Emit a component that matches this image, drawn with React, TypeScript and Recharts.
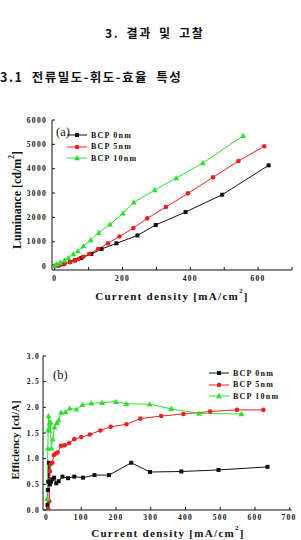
import React from 'react';
import { LineChart, Line, XAxis, YAxis } from 'recharts';

// ---- (a) Luminance vs current density ----
const lumBlackJ = [0, 10, 25, 45, 60, 78, 108, 138, 182, 244, 298, 386, 494, 631];
const lumBlackV = [0, 20, 80, 170, 240, 329, 500, 700, 933, 1260, 1690, 2220, 2930, 4138];
const lumRedJ = [0, 8, 18, 30, 45, 58, 70, 84, 102, 128, 157, 191, 232, 273, 328, 393, 467, 542, 618];
const lumRedV = [0, 20, 60, 110, 160, 230, 290, 384, 500, 700, 935, 1215, 1560, 1960, 2425, 2988, 3645, 4315, 4920];
const lumGreenJ = [0, 6, 16, 29, 40, 55, 68, 85, 106, 130, 163, 201, 233, 295, 358, 437, 556];
const lumGreenV = [20, 82, 144, 226, 330, 493, 616, 822, 1069, 1369, 1714, 2166, 2620, 3124, 3617, 4233, 5355];

// ---- (b) Efficiency vs current density ----
const effBlackJ = [3, 4, 5, 7, 10, 13, 17, 22, 28, 35, 46, 62, 80, 105, 138, 180, 244, 298, 388, 495, 636];
const effBlackV = [0.1, 0.39, 0.55, 0.92, 0.5, 0.55, 0.6, 0.63, 0.52, 0.56, 0.65, 0.62, 0.65, 0.63, 0.68, 0.68, 0.92, 0.74, 0.75, 0.78, 0.84];
const effRedJ = [5, 8, 10, 13, 17, 21, 26, 32, 42, 52, 65, 80, 100, 125, 155, 185, 230, 270, 330, 394, 471, 548, 624];
const effRedV = [0.02, 0.17, 0.75, 0.9, 0.92, 1.07, 1.1, 1.12, 1.25, 1.26, 1.3, 1.38, 1.42, 1.47, 1.55, 1.62, 1.67, 1.78, 1.83, 1.87, 1.92, 1.95, 1.95];
const effGreenJ = [2, 4, 5, 6, 8, 9, 11, 14, 18, 23, 30, 35, 42, 55, 67, 86, 103, 129, 160, 200, 230, 297, 359, 439, 561];
const effGreenV = [0.22, 1.2, 1.57, 1.83, 1.55, 1.69, 1.72, 1.2, 1.38, 1.61, 1.7, 1.75, 1.9, 1.91, 1.98, 1.96, 2.05, 2.08, 2.09, 2.11, 2.07, 2.06, 1.97, 1.88, 1.87];

const seriesNames = ['BCP 0nm', 'BCP 5nm', 'BCP 10nm'];
const lumTicksX = [0, 100, 200, 300, 400, 500, 600, 700];
const lumTicksY = [0, 500, 1000, 1500, 2000, 2500, 3000, 3500, 4000, 4500, 5000, 5500, 6000];
const effTicksX = [0, 50, 100, 150, 200, 250, 300, 350, 400, 450, 500, 550, 600, 650, 700];
const effTicksY = [0, 0.25, 0.5, 0.75, 1, 1.25, 1.5, 1.75, 2, 2.25, 2.5, 2.75, 3];

const BLACK = '#111111';
const RED = '#ee2020';
const GREEN = '#2ee02e';
const SERIF = '"Liberation Serif", "DejaVu Serif", serif';
const KR = '"Noto Sans CJK KR", sans-serif';

const zip = (j: number[], v: number[]) => j.map((x, i) => ({ j: x, v: v[i] }));

const SquareDot = (p: any) =>
  p.cx == null ? <g key={p.index} /> : <rect key={p.index} x={p.cx - 2} y={p.cy - 2} width={4} height={4} fill={BLACK} />;
const CircleDot = (p: any) =>
  p.cx == null ? <g key={p.index} /> : <circle key={p.index} cx={p.cx} cy={p.cy} r={2.3} fill={RED} />;
const TriDot = (p: any) =>
  p.cx == null ? (
    <g key={p.index} />
  ) : (
    <polygon key={p.index} points={`${p.cx},${p.cy - 3} ${p.cx - 3},${p.cy + 2.2} ${p.cx + 3},${p.cy + 2.2}`} fill={GREEN} />
  );

const makeTick = (anchor: 'end' | 'middle', every: number, decimals: number) => (props: any) => {
  const { x, y, payload } = props;
  const val = payload.value as number;
  const show = Math.abs(val / every - Math.round(val / every)) < 1e-6;
  if (!show) return <g />;
  return (
    <text
      x={x}
      y={y}
      dy="0.35em"
      textAnchor={anchor}
      fontFamily={SERIF}
      fontWeight="bold"
      fontSize={7.5}
      letterSpacing={1.3}
      fill="#111"
    >
      {val.toFixed(decimals)}
    </text>
  );
};

const LegendBox = ({ left, top }: { left: number; top: number }) => {
  const rows = [
    { name: seriesNames[0], color: BLACK, kind: 'sq' },
    { name: seriesNames[1], color: RED, kind: 'ci' },
    { name: seriesNames[2], color: GREEN, kind: 'tr' },
  ];
  return (
    <div style={{ position: 'absolute', left, top }}>
      {rows.map((r, i) => (
        <div key={r.name} style={{ position: 'absolute', left: 0, top: i * 11.5, height: 10, width: 110, display: 'flex', alignItems: 'center' }}>
          <svg width={22} height={10} style={{ display: 'block' }}>
            <line x1={1} y1={5} x2={21} y2={5} stroke={r.color} strokeWidth={1} />
            {r.kind === 'sq' && <rect x={9} y={3} width={4} height={4} fill={r.color} />}
            {r.kind === 'ci' && <circle cx={11} cy={5} r={2.3} fill={r.color} />}
            {r.kind === 'tr' && <polygon points="11,2 8,7.2 14,7.2" fill={r.color} />}
          </svg>
          <span style={{ marginLeft: 3, fontFamily: SERIF, fontWeight: 'bold', fontSize: 8, letterSpacing: 1.2, color: '#111', whiteSpace: 'nowrap' }}>
            {r.name}
          </span>
        </div>
      ))}
    </div>
  );
};

const axisStroke = { stroke: '#111', strokeWidth: 1 };

export default function App() {
  return (
    <div style={{ position: 'absolute', left: 0, top: 0, width: 301, height: 540, background: '#fff', overflow: 'hidden' }}>
      <div style={{ position: 'absolute', left: 105, top: 24, fontFamily: KR, fontWeight: 'bold', fontSize: 12, letterSpacing: 1.6, wordSpacing: 3, whiteSpace: 'nowrap', color: '#111' }}>
        3. 결과 및 고찰
      </div>
      <div style={{ position: 'absolute', left: 0, top: 67, fontFamily: KR, fontWeight: 'bold', fontSize: 12.5, letterSpacing: 1.5, wordSpacing: 4, whiteSpace: 'nowrap', color: '#111' }}>
        3.1 전류밀도-휘도-효율 특성
      </div>

      {/* Panel (a) */}
      <div style={{ position: 'absolute', left: 0, top: 0 }}>
        <LineChart width={301} height={300} margin={{ top: 120, right: 9, bottom: 0, left: 0 }}>
          <XAxis
            xAxisId="b"
            type="number"
            dataKey="j"
            domain={[-8, 700]}
            ticks={lumTicksX}
            allowDataOverflow
            height={30}
            tickSize={-3}
            tickMargin={11.5}
            axisLine={axisStroke}
            tickLine={axisStroke}
            tick={makeTick('middle', 200, 0)}
          />
          <XAxis xAxisId="t" orientation="top" type="number" dataKey="j" domain={[-8, 700]} ticks={lumTicksX} allowDataOverflow height={0} tickSize={-3} axisLine={axisStroke} tickLine={axisStroke} tick={false} />
          <YAxis
            yAxisId="l"
            type="number"
            domain={[-160, 6000]}
            ticks={lumTicksY}
            allowDataOverflow
            width={52}
            tickSize={-3}
            tickMargin={8}
            axisLine={axisStroke}
            tickLine={axisStroke}
            tick={makeTick('end', 1000, 0)}
          />
          <YAxis yAxisId="r" orientation="right" type="number" domain={[-160, 6000]} ticks={lumTicksY} allowDataOverflow width={0} tickSize={-3} axisLine={axisStroke} tickLine={axisStroke} tick={false} />
          <Line xAxisId="b" yAxisId="l" data={zip(lumBlackJ, lumBlackV)} dataKey="v" stroke={BLACK} strokeWidth={1} dot={SquareDot} isAnimationActive={false} name={seriesNames[0]} />
          <Line xAxisId="b" yAxisId="l" data={zip(lumRedJ, lumRedV)} dataKey="v" stroke={RED} strokeWidth={1} dot={CircleDot} isAnimationActive={false} name={seriesNames[1]} />
          <Line xAxisId="b" yAxisId="l" data={zip(lumGreenJ, lumGreenV)} dataKey="v" stroke={GREEN} strokeWidth={1} dot={TriDot} isAnimationActive={false} name={seriesNames[2]} />
        </LineChart>
      </div>
      <div style={{ position: 'absolute', left: 56, top: 125, fontFamily: SERIF, fontSize: 12.5, color: '#111' }}>(a)</div>
      <LegendBox left={66} top={130} />
      <div style={{ position: 'absolute', left: 172, top: 296, transform: 'translate(-50%, -50%)', fontFamily: SERIF, fontWeight: 'bold', fontSize: 11, letterSpacing: 1.3, whiteSpace: 'nowrap', color: '#111' }}>
        Current density [mA/cm<sup style={{ fontSize: 7, verticalAlign: 'top', position: 'relative', top: -3 }}>2</sup>]
      </div>
      <div style={{ position: 'absolute', left: 17, top: 200, transform: 'translate(-50%, -50%) rotate(-90deg)', fontFamily: SERIF, fontWeight: 'bold', fontSize: 12, whiteSpace: 'nowrap', color: '#111' }}>
        Luminance [cd/m<sup style={{ fontSize: 7.5, verticalAlign: 'top', position: 'relative', top: -3 }}>2</sup>]
      </div>

      {/* Panel (b) */}
      <div style={{ position: 'absolute', left: 0, top: 330 }}>
        <LineChart width={301} height={210} margin={{ top: 26, right: 9.5, bottom: 0, left: 0 }}>
          <XAxis
            xAxisId="b"
            type="number"
            dataKey="j"
            domain={[-10, 705]}
            ticks={effTicksX}
            allowDataOverflow
            height={30}
            tickSize={-3}
            tickMargin={10}
            axisLine={axisStroke}
            tickLine={axisStroke}
            tick={makeTick('middle', 100, 0)}
          />
          <XAxis xAxisId="t" orientation="top" type="number" dataKey="j" domain={[-10, 705]} ticks={effTicksX} allowDataOverflow height={0} tickSize={-3} axisLine={axisStroke} tickLine={axisStroke} tick={false} />
          <YAxis
            yAxisId="l"
            type="number"
            domain={[0, 3]}
            ticks={effTicksY}
            allowDataOverflow
            width={43}
            tickSize={-3}
            tickMargin={6}
            axisLine={axisStroke}
            tickLine={axisStroke}
            tick={makeTick('end', 0.5, 1)}
          />
          <YAxis yAxisId="r" orientation="right" type="number" domain={[0, 3]} ticks={effTicksY} allowDataOverflow width={0} tickSize={-3} axisLine={axisStroke} tickLine={axisStroke} tick={false} />
          <Line xAxisId="b" yAxisId="l" data={zip(effBlackJ, effBlackV)} dataKey="v" stroke={BLACK} strokeWidth={1} dot={SquareDot} isAnimationActive={false} name={seriesNames[0]} />
          <Line xAxisId="b" yAxisId="l" data={zip(effRedJ, effRedV)} dataKey="v" stroke={RED} strokeWidth={1} dot={CircleDot} isAnimationActive={false} name={seriesNames[1]} />
          <Line xAxisId="b" yAxisId="l" data={zip(effGreenJ, effGreenV)} dataKey="v" stroke={GREEN} strokeWidth={1} dot={TriDot} isAnimationActive={false} name={seriesNames[2]} />
        </LineChart>
      </div>
      <div style={{ position: 'absolute', left: 53, top: 368, fontFamily: SERIF, fontSize: 12.5, color: '#111' }}>(b)</div>
      <LegendBox left={208} top={368} />
      <div style={{ position: 'absolute', left: 168, top: 533, transform: 'translate(-50%, -50%)', fontFamily: SERIF, fontWeight: 'bold', fontSize: 11, letterSpacing: 1.3, whiteSpace: 'nowrap', color: '#111' }}>
        Current density [mA/cm<sup style={{ fontSize: 7, verticalAlign: 'top', position: 'relative', top: -3 }}>2</sup>]
      </div>
      <div style={{ position: 'absolute', left: 15, top: 440, transform: 'translate(-50%, -50%) rotate(-90deg)', fontFamily: SERIF, fontWeight: 'bold', fontSize: 11, whiteSpace: 'nowrap', color: '#111' }}>
        Efficiency [cd/A]
      </div>
    </div>
  );
}
